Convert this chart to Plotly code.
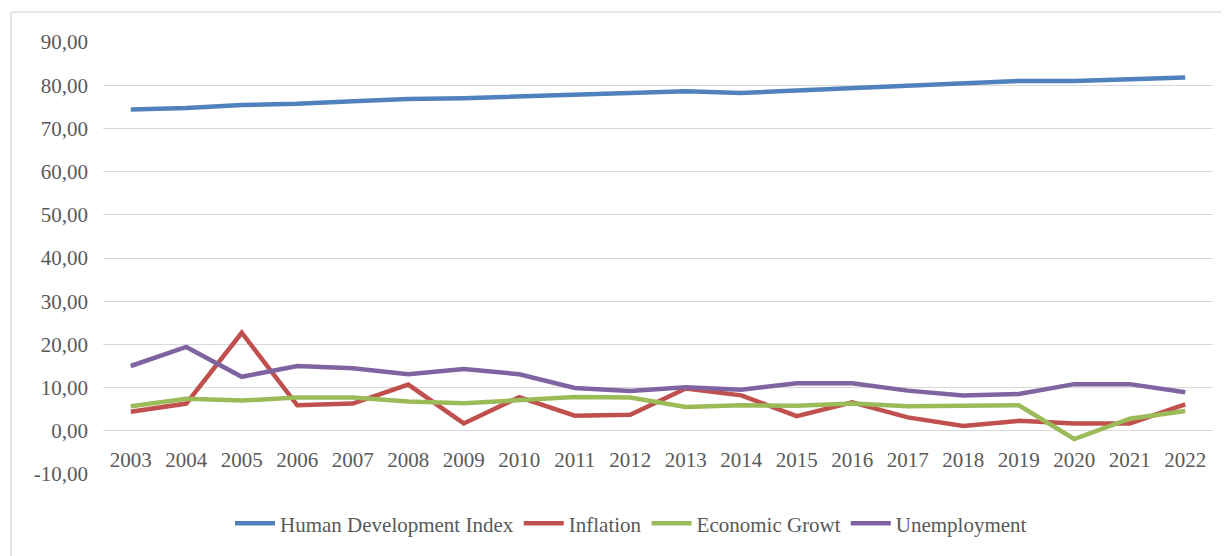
import plotly.graph_objects as go

years = [str(y) for y in range(2003, 2023)]
hdi = [74.4, 74.7, 75.4, 75.7, 76.3, 76.8, 77.0, 77.4, 77.8, 78.2,
       78.6, 78.2, 78.8, 79.3, 80.0, 80.6, 81.0, 81.0, 81.3, 81.8]
inflation = [4.4, 6.3, 22.7, 5.9, 6.3, 10.7, 1.7, 7.8, 3.5, 3.7,
             9.8, 8.2, 3.4, 6.6, 3.1, 1.1, 2.3, 1.7, 1.7, 6.1]
growth = [5.7, 7.4, 7.0, 7.7, 7.7, 6.8, 6.4, 7.2, 7.8, 7.7,
          5.5, 5.9, 5.8, 6.3, 5.7, 5.8, 5.9, -1.9, 2.8, 4.6]
unemployment = [15.0, 19.4, 12.5, 15.0, 14.5, 13.1, 14.3, 13.1, 9.9, 9.2,
                10.1, 9.5, 11.0, 11.0, 9.3, 8.2, 8.5, 10.8, 10.8, 8.9]

series_names = ["Human Development Index", "Inflation", "Economic Growt", "Unemployment"]
series_values = [hdi, inflation, growth, unemployment]
colors = ["#4F81BD", "#C0504D", "#9BBB59", "#8064A2"]

y_tickvals = [-10, 0, 10, 20, 30, 40, 50, 60, 70, 80, 90]
y_ticktext = ["-10,00", "0,00", "10,00", "20,00", "30,00", "40,00",
              "50,00", "60,00", "70,00", "80,00", "90,00"]

font_family = "Liberation Serif, Times New Roman, serif"
text_color = "#595959"
fsize = 21

fig = go.Figure()
for name, vals, col in zip(series_names, series_values, colors):
    fig.add_trace(go.Scatter(
        x=years, y=vals, name=name, mode="lines",
        line=dict(color=col, width=4.5),
    ))

# the page body adds an 8px offset; compensate so the plot lands where the reference has it
OFF = 8
W, H = 1229 - OFF, 556 - OFF
ml, mr, mt, mb = 103 - OFF, 16, 42 - OFF, 79
plot_h = H - mt - mb
plot_w = W - ml - mr
zero_pos = (0 - (-10)) / 100.0

fig.update_layout(
    width=W, height=H,
    margin=dict(l=ml, r=mr, t=mt, b=mb),
    paper_bgcolor="white", plot_bgcolor="white",
    font=dict(family=font_family, size=fsize, color=text_color),
    showlegend=True,
    legend=dict(
        orientation="h", x=(631 - 103) / plot_w, xanchor="center",
        y=(477 - 527) / plot_h, yanchor="middle",
        font=dict(family=font_family, size=fsize, color=text_color),
        itemwidth=40,
        traceorder="normal",
    ),
    xaxis=dict(
        type="category", range=[-0.5, 19.5], autorange=False,
        showgrid=False, zeroline=False, showline=False,
        ticks="", anchor="free", position=zero_pos,
        ticklabelstandoff=14,
        tickfont=dict(family=font_family, size=fsize, color=text_color),
    ),
    yaxis=dict(
        range=[-10, 90], autorange=False,
        tickvals=y_tickvals, ticktext=y_ticktext,
        showgrid=True, gridcolor="#D9D9D9", gridwidth=1.3,
        zeroline=True, zerolinecolor="#D9D9D9", zerolinewidth=1.3,
        showline=False, ticks="",
        ticklabelstandoff=14,
        tickfont=dict(family=font_family, size=fsize, color=text_color),
    ),
    shapes=[
        dict(type="line", xref="paper", yref="paper",
             x0=(11 - 103) / plot_w, x1=(1229 - 103) / plot_w,
             y0=(477 - 12) / plot_h, y1=(477 - 12) / plot_h,
             line=dict(color="#D9D9D9", width=1.3)),
        dict(type="line", xref="paper", yref="paper",
             x0=(11 - 103) / plot_w, x1=(11 - 103) / plot_w,
             y0=(477 - 12) / plot_h, y1=(477 - 560) / plot_h,
             line=dict(color="#D9D9D9", width=1.3)),
    ],
)

fig.write_html("out.html")
